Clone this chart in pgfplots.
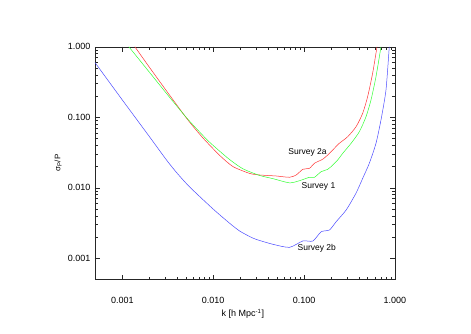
\documentclass[border=0pt]{standalone}
\usepackage{fontspec}
\setmainfont{Liberation Sans}
\usepackage{pgfplots}
\pgfplotsset{compat=1.18}
\begin{document}
\fontsize{9}{11}\selectfont
\begin{tikzpicture}
\useasboundingbox (0,0) rectangle (471pt,333pt);
\begin{axis}[
  at={(95pt,53.5pt)}, anchor=south west,
  scale only axis, width=300pt, height=232.7pt,
  xmode=log, ymode=log,
  xmin=0.0005, xmax=1.0, ymin=0.0005, ymax=1.0,
  xtick={0.001,0.01,0.1,1}, xticklabels={0.001,0.010,0.100,1.000},
  ytick={0.001,0.01,0.1,1}, yticklabels={0.001,0.010,0.100,1.000},
  tick align=inside, major tick length=5pt, minor tick length=3pt,
  axis line style={black!85, line width=0.6pt},
  every tick/.style={black!85, line width=0.5pt},
  xticklabel shift=15pt, yticklabel shift=1.5pt,
  /pgf/number format/assume math mode=true,
  tick label style={font=\fontsize{9}{11}\selectfont},
  xlabel={k [h Mpc\textsuperscript{-1}]},
  ylabel={σ\textsubscript{P}/P},
  every axis x label/.style={at={(axis description cs:0.493,-0.148)}, anchor=center, font=\fontsize{9}{11}\selectfont},
  every axis y label/.style={at={(axis description cs:-0.123,0.5)}, anchor=center, rotate=90, font=\fontsize{8}{10}\selectfont},
  clip=true,
]
% Survey 2a (red)
\addplot[color={rgb,1:red,1;green,0.2;blue,0.2}, line width=0.5pt, smooth, tension=0.4] coordinates {
(0.001374,1.0) (0.00201,0.501) (0.00333,0.204) (0.00528,0.0912) (0.00767,0.0513)
(0.01178,0.0288) (0.01648,0.0200) (0.02512,0.0160) (0.0324,0.0152) (0.0494,0.0147)
(0.0690,0.0141) (0.0819,0.0152) (0.0968,0.0183) (0.1146,0.0189) (0.130,0.0223)
(0.160,0.0254) (0.182,0.0292) (0.2065,0.0344) (0.244,0.0428) (0.302,0.0531)
(0.373,0.0736) (0.441,0.114) (0.500,0.196) (0.5675,0.421) (0.634,1.0)
};
% Survey 1 (green)
\addplot[color={rgb,1:red,0.2;green,1;blue,0.2}, line width=0.5pt, smooth, tension=0.4] coordinates {
(0.00118,1.0) (0.00201,0.427) (0.00333,0.1905) (0.00528,0.0933) (0.00841,0.0490)
(0.01084,0.0363) (0.01517,0.0251) (0.02123,0.0186) (0.0324,0.01496) (0.0453,0.01349)
(0.0690,0.01175) (0.0889,0.0126) (0.1146,0.0141) (0.130,0.0141) (0.1538,0.0169)
(0.182,0.0183) (0.2065,0.0210) (0.234,0.0248) (0.266,0.0308) (0.329,0.0428)
(0.4055,0.0625) (0.480,0.102) (0.5445,0.176) (0.618,0.377) (0.7015,1.0)
};
% Survey 2b (blue)
\addplot[color={rgb,1:red,0.3;green,0.3;blue,1}, line width=0.5pt, smooth, tension=0.4] coordinates {
(0.0005,0.598) (0.001,0.176) (0.002,0.0525) (0.00306,0.0248) (0.004,0.01614) (0.00552,0.01023)
(0.00995,0.00501) (0.0152,0.00313) (0.0195,0.00244) (0.0251,0.00204) (0.0298,0.00185)
(0.0453,0.00158) (0.0690,0.00143) (0.0968,0.00176) (0.125,0.00176) (0.154,0.00238)
(0.190,0.00252) (0.225,0.00330) (0.290,0.00484) (0.372,0.00836) (0.441,0.0136)
(0.522,0.0223) (0.618,0.0428) (0.701,0.0914) (0.796,0.244) (0.865,1.0)
};
\node[font=\fontsize{8.5}{10}\selectfont] at (axis cs:0.109,0.0322) {Survey 2a};
\node[font=\fontsize{8.5}{10}\selectfont] at (axis cs:0.144,0.0106) {Survey 1};
\node[font=\fontsize{8.5}{10}\selectfont] at (axis cs:0.138,0.0014) {Survey 2b};
\end{axis}
\end{tikzpicture}
\end{document}
